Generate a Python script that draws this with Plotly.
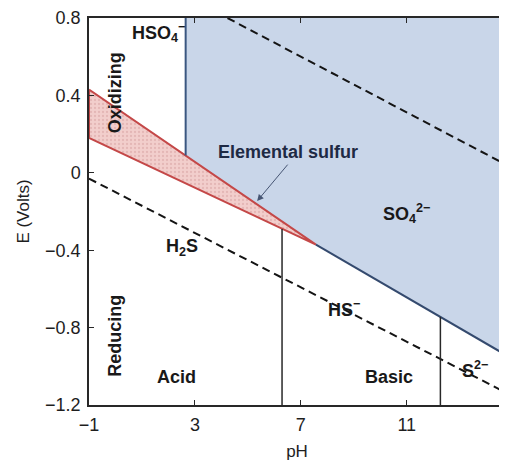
import plotly.graph_objects as go

# ---- data ----
ph_ticks = [-1, 3, 7, 11]
e_ticks = [-1.2, -0.8, -0.4, 0, 0.4, 0.8]

# SO4(2-) field boundary (vertical HSO4-/SO4 line, then S/SO4 line, then HS-/SO4, S2-/SO4)
so4_boundary_ph = [2.65, 2.65, 7.57, 15.0]
so4_boundary_e = [0.8, 0.09, -0.371, -0.962]

# elemental sulfur field
sulfur_ph = [-1, 7.57, -1, -1]
sulfur_e = [0.43, -0.371, 0.18, 0.43]

# water stability limits (dashed)
water_upper_ph = [4.23, 15.0]
water_upper_e = [0.8, 0.024]
water_lower_ph = [-1, 15.0]
water_lower_e = [-0.03, -1.154]

# species boundaries (vertical)
h2s_hs_ph = [6.29, 6.29]
h2s_hs_e = [-1.2, -0.29]
hs_s_ph = [12.27, 12.27]
hs_s_e = [-1.2, -0.745]

FONT = "Liberation Sans, Arial, Helvetica, sans-serif"

fig = go.Figure()

# blue SO4 field
fig.add_trace(go.Scatter(
    x=so4_boundary_ph + [15.0, 15.0], y=so4_boundary_e + [0.8, 0.8],
    fill="toself", fillcolor="rgb(201,214,233)", mode="none",
    hoverinfo="skip", showlegend=False))

# red elemental sulfur field
fig.add_trace(go.Scatter(
    x=sulfur_ph, y=sulfur_e, fill="toself", fillcolor="rgb(240,200,198)",
    fillpattern=dict(shape=".", fgcolor="rgba(190,120,120,0.55)", bgcolor="rgb(242,206,204)",
                     size=4, solidity=0.25),
    mode="lines", line=dict(color="rgb(196,72,72)", width=2),
    hoverinfo="skip", showlegend=False))

# blue boundary lines
fig.add_trace(go.Scatter(
    x=so4_boundary_ph[:2], y=so4_boundary_e[:2], mode="lines",
    line=dict(color="rgb(58,86,128)", width=2), hoverinfo="skip", showlegend=False))
fig.add_trace(go.Scatter(
    x=so4_boundary_ph[2:], y=so4_boundary_e[2:], mode="lines",
    line=dict(color="rgb(52,74,110)", width=2), hoverinfo="skip", showlegend=False))

# water lines
for xs, ys in [(water_upper_ph, water_upper_e), (water_lower_ph, water_lower_e)]:
    fig.add_trace(go.Scatter(
        x=xs, y=ys, mode="lines",
        line=dict(color="rgb(20,20,20)", width=2, dash="8px,5px"),
        hoverinfo="skip", showlegend=False))

# vertical species boundaries
for xs, ys in [(h2s_hs_ph, h2s_hs_e), (hs_s_ph, hs_s_e)]:
    fig.add_trace(go.Scatter(
        x=xs, y=ys, mode="lines", line=dict(color="rgb(40,40,40)", width=1.5),
        hoverinfo="skip", showlegend=False))

lab = dict(family=FONT, size=18, color="rgb(25,25,25)")
annotations = [
    dict(x=1.63, y=0.723, text="<b>HSO<sub>4</sub><sup>−</sup></b>"),
    dict(x=-0.02, y=0.416, text="<b>Oxidizing</b>", textangle=-90),
    dict(x=6.52, y=0.109, text="<b>Elemental sulfur</b>", font=dict(family=FONT, size=18, color="rgb(30,42,68)")),
    dict(x=10.99, y=-0.208, text="<b>SO<sub>4</sub><sup>2−</sup></b>"),
    dict(x=2.53, y=-0.387, text="<b>H<sub>2</sub>S</b>"),
    dict(x=-0.02, y=-0.842, text="<b>Reducing</b>", textangle=-90),
    dict(x=2.31, y=-1.057, text="<b>Acid</b>"),
    dict(x=8.62, y=-0.699, text="<b>HS<sup>−</sup></b>"),
    dict(x=10.32, y=-1.057, text="<b>Basic</b>"),
    dict(x=13.59, y=-1.016, text="<b>S<sup>2−</sup></b>"),
]
for a in annotations:
    a.setdefault("font", lab)
    a.update(xref="x", yref="y", showarrow=False)
    fig.add_annotation(**a)

# arrow to elemental sulfur field
fig.add_annotation(x=5.35, y=-0.146, ax=6.55, ay=0.05, xref="x", yref="y",
                   axref="x", ayref="y", text="", showarrow=True,
                   arrowhead=2, arrowsize=1.3, arrowwidth=1,
                   arrowcolor="rgb(70,85,115)")

fig.update_layout(
    width=499, height=453,
    margin=dict(l=81, r=0, t=7, b=55),
    plot_bgcolor="white", paper_bgcolor="white",
    font=dict(family=FONT, size=18, color="rgb(30,30,30)"),
    xaxis=dict(range=[-1, 14.71], tickvals=ph_ticks, ticks="inside", ticklen=5,
               tickcolor="rgb(40,40,40)", showline=True, linecolor="rgb(40,40,40)",
               linewidth=1.5, mirror="ticks", showgrid=False, zeroline=False,
               ticklabelstandoff=3, ticklabeloverflow="allow",
               title=dict(text="pH", standoff=14, font=dict(size=17))),
    yaxis=dict(range=[-1.2, 0.8], tickvals=e_ticks, ticks="inside", ticklen=5,
               tickcolor="rgb(40,40,40)", showline=True, linecolor="rgb(40,40,40)",
               linewidth=1.5, mirror="ticks", showgrid=False, zeroline=False,
               ticklabelstandoff=3, ticklabeloverflow="allow",
               title=dict(text="E (Volts)", standoff=11, font=dict(size=17))),
)

fig.write_html("out.html")
